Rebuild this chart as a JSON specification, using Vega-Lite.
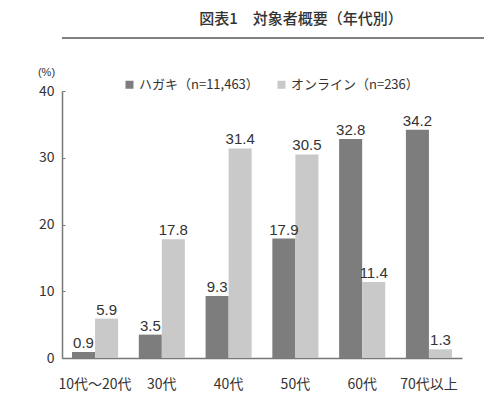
{
  "$schema": "https://vega.github.io/schema/vega-lite/v6.json",
  "padding": {"left": 12, "top": 0, "right": 0, "bottom": 0},
  "background": "white",
  "spacing": 27,
  "config": {
    "view": {"stroke": null},
    "font": "Noto Sans CJK JP"
  },
  "vconcat": [
    {
      "width": 472,
      "height": 38,
      "data": {"values": [{"heading": "図表1　対象者概要（年代別）"}]},
      "layer": [
        {
          "mark": {"type": "text", "fontSize": 15, "fontWeight": 500, "color": "#333333", "baseline": "middle", "font": "Noto Sans CJK JP", "dx": 3},
          "encoding": {"text": {"field": "heading"}}
        },
        {
          "mark": {"type": "rule", "color": "#808080", "strokeWidth": 2},
          "encoding": {"y": {"datum": 0, "scale": {"domain": [0, 1]}, "axis": null}}
        }
      ]
    },
    {
      "width": 400,
      "height": 267,
      "data": {
        "values": [
          {"age": "10代～20代", "series": "ハガキ（n=11,463）", "pct": 0.9},
          {"age": "10代～20代", "series": "オンライン（n=236）", "pct": 5.9},
          {"age": "30代", "series": "ハガキ（n=11,463）", "pct": 3.5},
          {"age": "30代", "series": "オンライン（n=236）", "pct": 17.8},
          {"age": "40代", "series": "ハガキ（n=11,463）", "pct": 9.3},
          {"age": "40代", "series": "オンライン（n=236）", "pct": 31.4},
          {"age": "50代", "series": "ハガキ（n=11,463）", "pct": 17.9},
          {"age": "50代", "series": "オンライン（n=236）", "pct": 30.5},
          {"age": "60代", "series": "ハガキ（n=11,463）", "pct": 32.8},
          {"age": "60代", "series": "オンライン（n=236）", "pct": 11.4},
          {"age": "70代以上", "series": "ハガキ（n=11,463）", "pct": 34.2},
          {"age": "70代以上", "series": "オンライン（n=236）", "pct": 1.3}
        ]
      },
      "encoding": {
        "x": {
          "field": "age",
          "type": "nominal",
          "sort": null,
          "scale": {"paddingInner": 0.31, "paddingOuter": 0.15},
          "axis": {
            "title": null,
            "labelAngle": 0,
            "ticks": false,
            "domainColor": "#777777",
            "domainWidth": 1.5,
            "labelFont": "Noto Sans CJK JP",
            "labelFontSize": 14,
            "labelColor": "#333333",
            "labelPadding": 19
          }
        },
        "xOffset": {
          "field": "series",
          "type": "nominal",
          "scale": {"domain": ["ハガキ（n=11,463）", "オンライン（n=236）"]}
        },
        "y": {
          "field": "pct",
          "type": "quantitative",
          "scale": {"domain": [0, 40]},
          "axis": {
            "values": [0, 10, 20, 30, 40],
            "grid": false,
            "title": "(%)",
            "titleAngle": 0,
            "titleX": -16,
            "titleY": -19,
            "titleAlign": "center",
            "titleBaseline": "middle",
            "titleFont": "Liberation Sans",
            "titleFontSize": 11,
            "titleFontWeight": "normal",
            "titleColor": "#333333",
            "labelFont": "Noto Sans CJK JP",
            "labelFontSize": 14,
            "labelColor": "#333333",
            "labelPadding": 11,
            "tickSize": -3,
            "tickColor": "#777777",
            "domainColor": "#777777",
            "domainWidth": 1.5,
            "minExtent": 50
          }
        }
      },
      "layer": [
        {
          "mark": {"type": "bar"},
          "encoding": {
            "color": {
              "field": "series",
              "type": "nominal",
              "scale": {
                "domain": ["ハガキ（n=11,463）", "オンライン（n=236）"],
                "range": ["#7d7d7d", "#c9c9c9"]
              },
              "legend": {
                "title": null,
                "orient": "none",
                "direction": "horizontal",
                "legendX": 61,
                "legendY": 78,
                "symbolType": "square",
                "symbolSize": 64,
                "symbolStrokeWidth": 0,
                "labelFont": "Noto Sans CJK JP",
                "labelFontSize": 13,
                "labelColor": "#333333",
                "labelOffset": 3,
                "columnPadding": 16,
                "padding": 0
              }
            }
          }
        },
        {
          "mark": {
            "type": "text",
            "font": "Liberation Sans",
            "fontSize": 15,
            "color": "#333333",
            "baseline": "alphabetic",
            "dy": -4
          },
          "encoding": {
            "text": {"field": "pct", "type": "quantitative", "format": ".1f"}
          }
        }
      ]
    }
  ]
}
